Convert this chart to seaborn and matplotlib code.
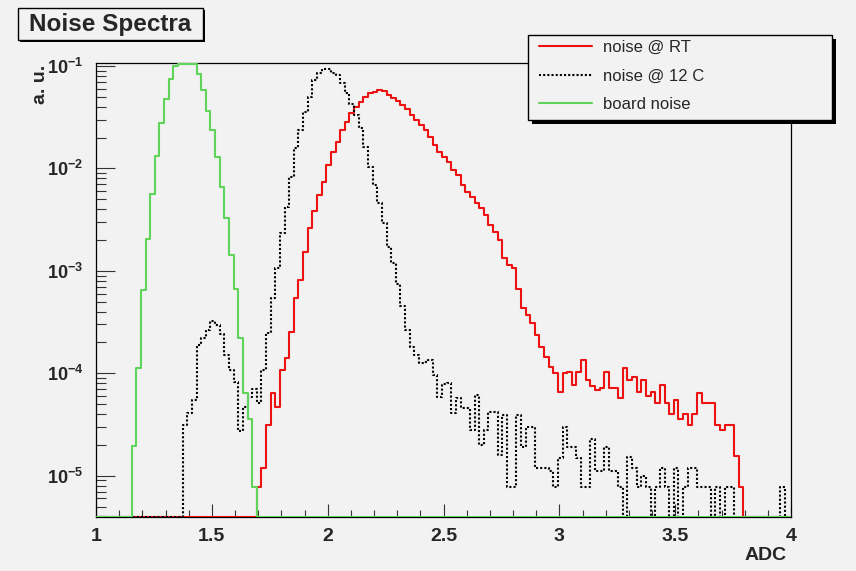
import numpy as np
import pandas as pd
import matplotlib
matplotlib.use("Agg")
import matplotlib.pyplot as plt
from matplotlib.ticker import MultipleLocator, LogLocator, NullFormatter
from matplotlib.patches import Rectangle
import seaborn as sns

# ---------------- data (histograms, bin width 0.02 in ADC) ----------------
BIN_WIDTH = 0.02
BIN_START = 0.994
N_BINS = 150

series_labels = ["noise @ RT", "noise @ 12 C", "board noise"]
series_colors = ["#ee1111", "#000000", "#5fd35a"]

rt_first_edge = 1.694
rt_values = [
    7.8e-6, 1.18e-5, 3.1e-5, 6.4e-5, 4.7e-5, 1.07e-4, 1.4e-4, 2.55e-4, 5.4e-4, 8.1e-4,
    1.54e-3, 2.6e-3, 3.8e-3, 5.5e-3, 7.4e-3, 1.08e-2, 1.46e-2, 1.82e-2, 2.37e-2, 2.86e-2,
    3.45e-2, 4.0e-2, 4.48e-2, 5.0e-2, 5.4e-2, 5.6e-2, 5.8e-2, 5.7e-2, 5.2e-2, 4.9e-2,
    4.55e-2, 4.16e-2, 3.77e-2, 3.32e-2, 2.97e-2, 2.66e-2, 2.37e-2, 2.04e-2, 1.69e-2, 1.46e-2,
    1.3e-2, 1.16e-2, 9.6e-3, 8.6e-3, 6.9e-3, 5.9e-3, 5.3e-3, 4.56e-3, 4.1e-3, 3.5e-3,
    2.8e-3, 2.4e-3, 2.0e-3, 1.32e-3, 1.14e-3, 1.06e-3, 6.7e-4, 4.3e-4, 3.7e-4, 3.07e-4,
    2.36e-4, 1.82e-4, 1.45e-4, 1.16e-4, 9.97e-5, 6.6e-5, 9.97e-5, 1.03e-4, 7.7e-5, 1.03e-4,
    1.35e-4, 8.6e-5, 7.5e-5, 6.85e-5, 7.1e-5, 1.03e-4, 7.1e-5, 7.1e-5, 5.7e-5, 1.12e-4,
    8.6e-5, 9.2e-5, 6.6e-5, 8.6e-5, 6.0e-5, 6.6e-5, 5.1e-5, 7.7e-5, 5.1e-5, 4.0e-5,
    5.5e-5, 3.6e-5, 4.0e-5, 3.1e-5, 4.0e-5, 6.4e-5, 5.1e-5, 5.1e-5, 5.1e-5, 3.1e-5,
    2.8e-5, 3.1e-5, 3.1e-5, 1.54e-5, 7.8e-6,
]

cold_first_edge = 1.374
cold_values = [
    3.1e-5, 4.1e-5, 5.5e-5, 1.88e-4, 2.2e-4, 2.64e-4, 3.24e-4, 2.95e-4, 2.4e-4, 1.5e-4,
    1.07e-4, 8.2e-5, 2.75e-5, 4.7e-5, 5.9e-5, 7.0e-5, 5.1e-5, 1.07e-4, 2.45e-4, 5.4e-4,
    1.06e-3, 2.32e-3, 4.2e-3, 8.3e-3, 1.57e-2, 2.37e-2, 3.58e-2, 5.0e-2, 7.3e-2, 8.5e-2,
    9.35e-2, 9.35e-2, 8.5e-2, 8.2e-2, 6.8e-2, 5.4e-2, 4.3e-2, 3.3e-2, 2.46e-2, 1.63e-2,
    1.04e-2, 6.9e-3, 4.6e-3, 2.9e-3, 1.72e-3, 1.18e-3, 7.5e-4, 4.5e-4, 2.64e-4, 1.8e-4,
    1.5e-4, 1.26e-4, 1.3e-4, 1.35e-4, 9.6e-5, 5.9e-5, 7.9e-5, 8.0e-5, 4.1e-5, 5.7e-5,
    4.6e-5, 4.6e-5, 2.8e-5, 6.1e-5, 2.0e-5, 2.8e-5, 4.2e-5, 4.2e-5, 1.6e-5, 3.9e-5,
    7.8e-6, 7.8e-6, 3.9e-5, 1.92e-5, 3.0e-5, 3.0e-5, 1.18e-5, 1.18e-5, 1.18e-5, 1.1e-5,
    7.8e-6, 1.5e-5, 3.0e-5, 1.92e-5, 1.92e-5, 1.5e-5, 7.8e-6, 7.8e-6, 2.3e-5, 1.1e-5,
    1.1e-5, 1.92e-5, 1.1e-5, 1.1e-5, 7.8e-6, 0.0, 1.53e-5, 1.18e-5, 7.8e-6, 1.0e-5,
    7.8e-6, 0.0, 7.8e-6, 1.18e-5, 7.8e-6, 0.0, 1.18e-5, 0.0, 7.8e-6, 1.18e-5,
    1.18e-5, 7.8e-6, 7.8e-6, 7.8e-6, 0.0, 7.8e-6, 0.0, 7.8e-6, 7.8e-6, 0.0,
    0.0, 0.0, 0.0, 0.0, 0.0, 0.0, 0.0, 0.0, 0.0, 7.8e-6,
]

board_first_edge = 1.154
board_values = [
    1.95e-5, 1.12e-4, 6.5e-4, 2.04e-3, 5.6e-3, 1.32e-2, 2.8e-2, 4.8e-2, 7.4e-2, 1.0e-1,
    0.105, 0.105, 0.105, 0.105,
    8.35e-2, 5.8e-2, 3.6e-2, 2.37e-2, 1.28e-2, 6.6e-3, 3.3e-3, 1.43e-3, 6.6e-4, 2.2e-4,
    6.4e-5, 3.55e-5, 7.8e-6,
]

x_ticks = [1, 1.5, 2, 2.5, 3, 3.5, 4]
x_tick_labels = ["1", "1.5", "2", "2.5", "3", "3.5", "4"]
y_ticks = [1e-5, 1e-4, 1e-3, 1e-2, 1e-1]
y_tick_labels = [r"$\mathbf{10^{-5}}$", r"$\mathbf{10^{-4}}$", r"$\mathbf{10^{-3}}$",
                 r"$\mathbf{10^{-2}}$", r"$\mathbf{10^{-1}}$"]

X_MIN, X_MAX = 1.0, 4.0
Y_MIN, Y_MAX = 3.95e-6, 0.107

# ---------------- build long table ----------------
edges = BIN_START + BIN_WIDTH * np.arange(N_BINS + 1)


def full_hist(first_edge, vals):
    h = np.zeros(N_BINS)
    i0 = int(round((first_edge - BIN_START) / BIN_WIDTH))
    h[i0:i0 + len(vals)] = vals
    return h


frames = []
for label, first, vals in zip(series_labels,
                              [rt_first_edge, cold_first_edge, board_first_edge],
                              [rt_values, cold_values, board_values]):
    h = full_hist(first, vals)
    y = np.append(h, h[-1])
    y = np.where(y > 0, y, Y_MIN)   # empty bins drawn on the frame bottom (ROOT style)
    frames.append(pd.DataFrame({"ADC": edges, "value": y, "series": label}))
df = pd.concat(frames, ignore_index=True)

# ---------------- style ----------------
sns.set_style("ticks")
BG = "#f2f2f2"
plt.rcParams["font.family"] = ["Liberation Sans", "DejaVu Sans"]
plt.rcParams["mathtext.fontset"] = "custom"
plt.rcParams["mathtext.rm"] = "Liberation Sans:bold"
plt.rcParams["mathtext.bf"] = "Liberation Sans:bold"
plt.rcParams["mathtext.it"] = "Liberation Sans:bold"

W, H = 856, 571
fig = plt.figure(figsize=(W / 100, H / 100), dpi=100, facecolor=BG)
ax = fig.add_axes([96 / W, 1 - 517 / H, 695 / W, 454 / H])
ax.set_facecolor(BG)
ax.set_yscale("log")

sns.lineplot(data=df, x="ADC", y="value", hue="series", style="series",
             hue_order=series_labels, style_order=series_labels,
             palette=dict(zip(series_labels, series_colors)),
             dashes={series_labels[0]: "", series_labels[1]: (1, 1), series_labels[2]: ""},
             drawstyle="steps-post", estimator=None, sort=False,
             linewidth=1.5, legend=False, ax=ax, zorder=3)

ax.set_xlim(X_MIN, X_MAX)
ax.set_ylim(Y_MIN, Y_MAX)

ax.set_xticks(x_ticks, labels=x_tick_labels, fontsize=14, fontweight="bold")
ax.set_yticks(y_ticks, labels=y_tick_labels, fontsize=13)
ax.xaxis.set_minor_locator(MultipleLocator(0.1))
ax.yaxis.set_minor_locator(LogLocator(base=10, subs=np.arange(2, 10)))
ax.yaxis.set_minor_formatter(NullFormatter())

ax.tick_params(axis="x", which="major", direction="in", length=9.5, width=0.8, pad=8, color="#333333")
ax.tick_params(axis="x", which="minor", direction="in", length=5, width=0.8, color="#333333")
ax.tick_params(axis="y", which="major", direction="in", length=14, width=0.8, pad=9, color="#333333")
ax.tick_params(axis="y", which="minor", direction="in", length=7, width=0.8, color="#333333")
ax.tick_params(top=False, right=False, which="both")

for sp in ax.spines.values():
    sp.set_visible(True)
    sp.set_linewidth(0.9)
    sp.set_color("black")

ax.set_xlabel("ADC", fontsize=14, fontweight="bold", loc="right")
ax.xaxis.set_label_coords(1.0 - 4 / 695, -(555 - 517) / 454)
ax.xaxis.label.set_verticalalignment("center")
ax.set_ylabel("a. u.", fontsize=14, fontweight="bold", loc="top")
ax.yaxis.set_label_coords(-(96 - 40) / 695, 1.0 - 2 / 454)
ax.yaxis.label.set_verticalalignment("center")

# ---------------- legend (frame + shadow drawn ROOT-like) ----------------
fig.add_artist(Rectangle((532 / W, 1 - 124 / H), 304 / W, 85 / H, transform=fig.transFigure,
                         facecolor="black", edgecolor="black", lw=0, zorder=8))
fig.add_artist(Rectangle((528 / W, 1 - 120 / H), 304 / W, 85 / H, transform=fig.transFigure,
                         facecolor=BG, edgecolor="black", lw=1.0, zorder=9))
handles = ax.get_lines()[:3]
leg = fig.legend(handles, series_labels, loc="upper left",
                 bbox_to_anchor=(539 / W, 1 - 40 / H),
                 borderaxespad=0, borderpad=0, fontsize=12,
                 handlelength=3.2, handletextpad=0.65,
                 labelspacing=0.81, frameon=False)
leg.set_zorder(10)

# ---------------- title box ----------------
fig.add_artist(Rectangle((20 / W, 1 - 42 / H), 185 / W, 32 / H, transform=fig.transFigure,
                         facecolor="black", edgecolor="black", lw=0, zorder=5))
fig.add_artist(Rectangle((18 / W, 1 - 40 / H), 185 / W, 32 / H, transform=fig.transFigure,
                         facecolor=BG, edgecolor="black", lw=1.0, zorder=6))
fig.text(110.5 / W, 1 - 24 / H, "Noise Spectra", fontsize=17.5, fontweight="bold",
         ha="center", va="center", zorder=7)

fig.savefig("out.png", dpi=100, facecolor=BG)
